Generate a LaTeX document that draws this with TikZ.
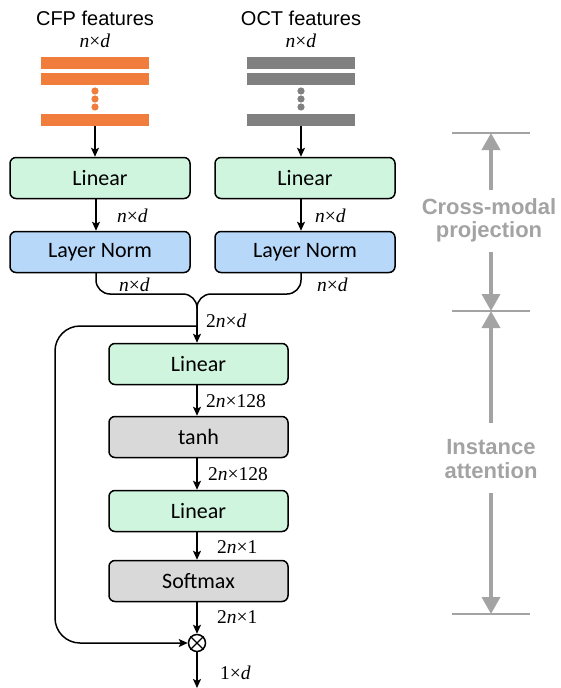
\documentclass[tikz,border=0pt]{standalone}
\usepackage[no-math]{fontspec}
\setmainfont{Liberation Sans}
\newfontfamily\boxfont{Carlito}
\newfontfamily\dimfont{Liberation Serif}
\newcommand{\vn}{\textit{n}}
\newcommand{\vd}{\textit{d}}
\usetikzlibrary{arrows.meta}
\definecolor{lingreen}{HTML}{D0F5DE}
\definecolor{normblue}{HTML}{B8D8FA}
\definecolor{actgray}{HTML}{D9D9D9}
\definecolor{cfporange}{HTML}{F07D3C}
\definecolor{octgray}{HTML}{808080}
\definecolor{anngray}{HTML}{A3A3A3}
\tikzset{
  blk/.style={draw, line width=1.5pt, rounded corners=6pt, minimum height=41pt, inner sep=0pt,
    font=\boxfont\fontsize{22}{26}\selectfont},
  wideblk/.style={blk, minimum width=179pt},
  arr/.style={-{Stealth[length=9pt,width=8pt,inset=2pt]}, line width=1.5pt},
  con/.style={line width=1.5pt},
  dim/.style={anchor=west, inner sep=0pt, font=\dimfont\fontsize{19.5}{22}\selectfont},
  topdim/.style={inner sep=0pt, font=\dimfont\fontsize{19.5}{22}\selectfont},
  head/.style={anchor=base, inner sep=0pt, font=\fontsize{20}{24}\selectfont},
  ann/.style={anchor=base, inner sep=0pt, text=anngray, font=\bfseries\fontsize{22}{26}\selectfont},
  annline/.style={draw=anngray, line width=2.8pt},
  annarr/.style={draw=anngray, line width=3.5pt, -{Triangle[length=17pt,width=18pt]}},
  bar/.style={draw=none, minimum width=108pt, minimum height=12pt, inner sep=0pt},
}
\begin{document}
\begin{tikzpicture}[x=1pt, y=-1pt]
\useasboundingbox (0,0) rectangle (560,688);

% headings
\node[head] (hcfp) at (95,25) {CFP features};
\node[head] (hoct) at (301,25) {OCT features};
\node[topdim] (dcfp) at (95,41) {\vn×\vd};
\node[topdim] (doct) at (301,41) {\vn×\vd};

% feature bars
\node[bar, fill=cfporange] (o1) at (95,63) {};
\node[bar, fill=cfporange] (o2) at (95,78.5) {};
\node[bar, fill=cfporange] (o3) at (95,120) {};
\foreach \y [count=\i] in {91,99,107} \fill[cfporange] (95,\y) circle (3.6pt);
\node[bar, fill=octgray] (g1) at (301,63) {};
\node[bar, fill=octgray] (g2) at (301,78.5) {};
\node[bar, fill=octgray] (g3) at (301,120) {};
\foreach \y [count=\i] in {91,99,107} \fill[octgray] (301,\y) circle (3.6pt);

% cross-modal projection blocks
\node[wideblk, fill=lingreen, minimum width=180pt] (lin1) at (100,178) {Linear};
\node[wideblk, fill=lingreen, minimum width=180pt] (lin2) at (305,178) {Linear};
\node[wideblk, fill=normblue, minimum width=180pt] (ln1) at (100,252) {Layer Norm};
\node[wideblk, fill=normblue, minimum width=180pt] (ln2) at (305,252) {Layer Norm};

\draw[arr] (o3.south) -- (o3.south |- lin1.north);
\draw[arr] (g3.south) -- (g3.south |- lin2.north);
\draw[arr] (96,199) coordinate (l1b) -- (l1b |- ln1.north);
\draw[arr] (301,199) coordinate (l2b) -- (l2b |- ln2.north);
\node[dim] (d1) at (117,216) {\vn×\vd};
\node[dim] (d2) at (315,216) {\vn×\vd};

% merge
\coordinate (m1) at (96,273);
\coordinate (m2) at (301,273);
\coordinate (mj) at (197,294);
\coordinate (split) at (197,326);
\draw[con, rounded corners=14pt] (m1) -- (m1 |- mj) -- (mj) -- (split);
\draw[con, rounded corners=14pt] (m2) -- (m2 |- mj) -- (mj) -- (split);
\node[dim] (d3) at (119,284.5) {\vn×\vd};
\node[dim] (d4) at (317,285) {\vn×\vd};
\node[dim] (d5) at (206,321) {2\vn×\vd};

% instance attention blocks
\node[wideblk, fill=lingreen] (lin3) at (198.5,364) {Linear};
\node[wideblk, fill=actgray] (tanh) at (198.5,437) {tanh};
\node[wideblk, fill=lingreen] (lin4) at (198.5,511) {Linear};
\node[wideblk, fill=actgray] (soft) at (198.5,581) {Softmax};
\node[draw, circle, line width=1.5pt, minimum size=17pt, inner sep=0pt] (mul) at (197,643) {};
\draw[line width=1.2pt] (mul.north west) -- (mul.south east) (mul.north east) -- (mul.south west);
\coordinate (out) at (197,688);

\draw[arr] (split) -- (split |- lin3.north);
\draw[arr] (197,384) coordinate (a1) -- (a1 |- tanh.north);
\draw[arr] (197,457) coordinate (a2) -- (a2 |- lin4.north);
\draw[arr] (197,531) coordinate (a3) -- (a3 |- soft.north);
\draw[arr] (197,601) coordinate (a4) -- (mul.north);
\draw[arr] (mul.south) -- (out);
\draw[arr, rounded corners=25pt] (split) -- (55,326) -- (55,643) -- (mul.west);

\node[dim] (d6) at (206,401) {2\vn×128};
\node[dim] (d7) at (208,474) {2\vn×128};
\node[dim] (d8) at (217,547) {2\vn×1};
\node[dim] (d9) at (217,617) {2\vn×1};
\node[dim] (d10) at (220,673) {1×\vd};

% annotation
\coordinate (t1) at (491,133);
\coordinate (t2) at (491,311);
\coordinate (t3) at (491,614);
\draw[annline] (452,133) -- (530,133);
\draw[annline] (452,311) -- (530,311);
\draw[annline] (452,614) -- (530,614);
\draw[annarr] (491,190) -- (t1);
\draw[annarr] (491,252) -- (t2);
\draw[annarr] (491,423) -- (t2);
\draw[annarr] (491,493) -- (t3);
\node[ann] (cm1) at (489,214) {Cross-modal};
\node[ann] (cm2) at (489,237) {projection};
\node[ann] (ia1) at (491,454) {Instance};
\node[ann] (ia2) at (491,478) {attention};
\end{tikzpicture}
\end{document}
